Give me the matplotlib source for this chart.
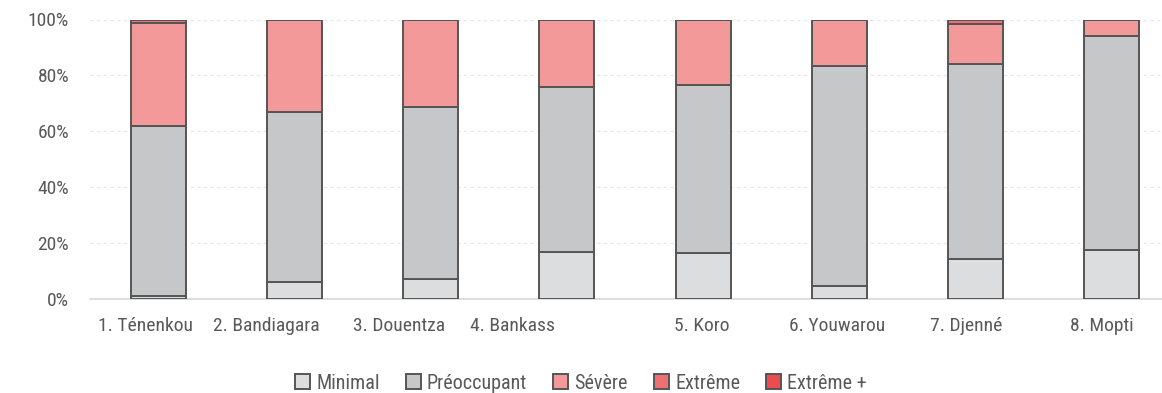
import matplotlib.pyplot as plt
import numpy as np
from matplotlib import font_manager
from matplotlib.transforms import ScaledTranslation

# noms des cercles et parts de la population par phase
cercles = ["1. Ténenkou", "2. Bandiagara", "3. Douentza", "4. Bankass",
           "5. Koro", "6. Youwarou", "7. Djenné", "8. Mopti"]
minimal = [1.2, 6.1, 7.0, 16.7, 16.3, 4.8, 14.2, 17.6]
preoccupant = [60.8, 60.8, 61.6, 59.0, 60.3, 78.6, 69.8, 76.5]
severe = [36.6, 33.1, 31.4, 24.3, 23.4, 16.6, 14.3, 5.9]
extreme = [1.4, 0, 0, 0, 0, 0, 1.7, 0]
extreme_plus = [0, 0, 0, 0, 0, 0, 0, 0]

phases = ["Minimal", "Préoccupant", "Sévère", "Extrême", "Extrême +"]
couleurs = ["#DCDDDF", "#C6C7C9", "#F4999A", "#EE7073", "#EB4C50"]
series = [minimal, preoccupant, severe, extreme, extreme_plus]

# décalage horizontal des étiquettes (en pixels)
decalages = [-13, -28, -32, -54, -1, -2, -9, -10]

noms = {f.name for f in font_manager.fontManager.ttflist}
police = "Roboto Condensed" if "Roboto Condensed" in noms else "Roboto"
plt.rcParams['font.family'] = [police, 'DejaVu Sans']
gris_texte = "#595959"

fig = plt.figure(figsize=(11.62, 3.93), dpi=100)
ax = fig.add_axes([90 / 1162, 1 - 299 / 393, 1090 / 1162, 279.5 / 393])

x = np.arange(len(cercles))
bas = np.zeros(len(cercles))
for nom, coul, vals in zip(phases, couleurs, series):
    vals = np.array(vals)
    ax.bar(x, vals, bottom=bas, width=0.404, color=coul, edgecolor="#555555",
           linewidth=1.4, label=nom, zorder=3)
    bas += vals

ax.set_xlim(-0.5, 7.5)
ax.set_ylim(0, 100)
ax.set_yticks(range(0, 101, 20))
ax.set_yticklabels([f"{v}%" for v in range(0, 101, 20)])
ax.set_xticks(x)
ax.set_xticklabels(cercles)
ax.tick_params(length=0, labelsize=14, colors=gris_texte)
ax.tick_params(axis="x", pad=13)
ax.tick_params(axis="y", pad=15)

for lab, dx in zip(ax.get_xticklabels(), decalages):
    lab.set_transform(lab.get_transform() + ScaledTranslation(dx / 100, 0, fig.dpi_scale_trans))

ax.yaxis.grid(True, color="#E6E6E6", linestyle=(0, (3, 3)), linewidth=0.8, zorder=0)
for s in ["top", "right", "left"]:
    ax.spines[s].set_visible(False)
ax.spines["bottom"].set_color("#D9D9D9")
ax.spines["bottom"].set_linewidth(1.2)

fig.legend(loc="lower center", bbox_to_anchor=(0.5, -0.045), ncol=5, frameon=False,
           fontsize=14.5, handlelength=0.75, handleheight=0.75, handletextpad=0.3,
           columnspacing=1.3, labelcolor=gris_texte)

fig.savefig("out.png", dpi=100)
